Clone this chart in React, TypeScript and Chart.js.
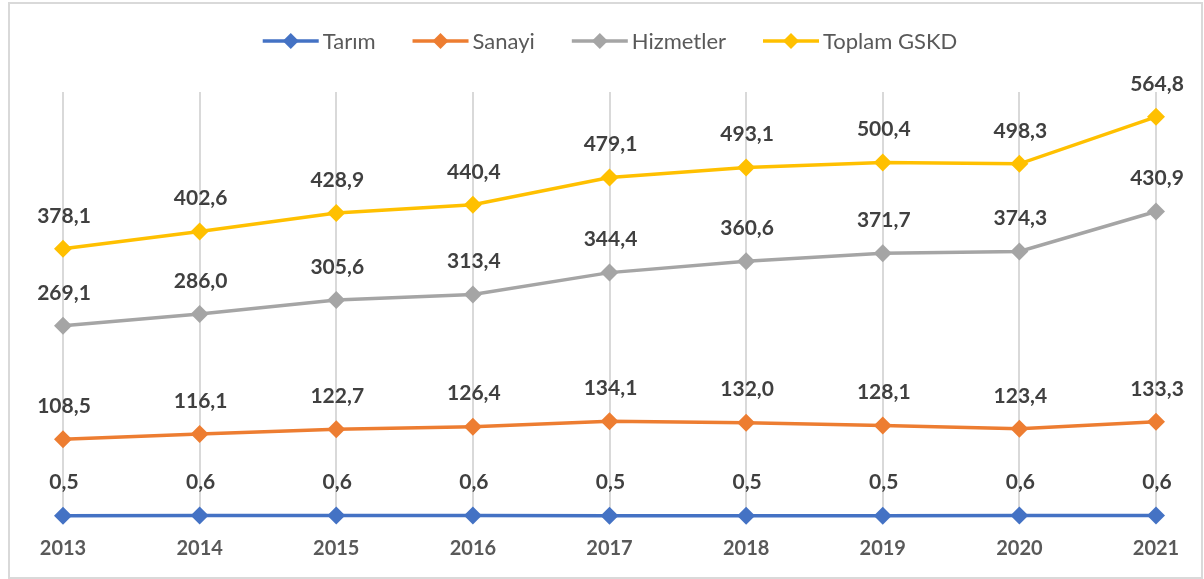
import React, { useEffect, useRef } from "react";
import { Chart, registerables } from "chart.js";

Chart.register(...registerables);

const years = ["2013", "2014", "2015", "2016", "2017", "2018", "2019", "2020", "2021"];
const tarim = [0.5, 0.6, 0.6, 0.6, 0.5, 0.5, 0.5, 0.6, 0.6];
const sanayi = [108.5, 116.1, 122.7, 126.4, 134.1, 132.0, 128.1, 123.4, 133.3];
const hizmetler = [269.1, 286.0, 305.6, 313.4, 344.4, 360.6, 371.7, 374.3, 430.9];
const toplam = [378.1, 402.6, 428.9, 440.4, 479.1, 493.1, 500.4, 498.3, 564.8];

const seriesNames = ["Tarım", "Sanayi", "Hizmetler", "Toplam GSKD"];
const seriesColors = ["#4472C4", "#ED7D31", "#A5A5A5", "#FFC000"];
const seriesValues = [tarim, sanayi, hizmetler, toplam];

const FONT = "Lato, 'Open Sans', sans-serif";

const fmt = (v: number) => v.toFixed(1).replace(".", ",");

const dataLabelPlugin = {
  id: "dataLabels",
  afterDatasetsDraw(chart: any) {
    const ctx = chart.ctx;
    ctx.save();
    ctx.font = `bold 21px ${FONT}`;
    ctx.fillStyle = "#404040";
    ctx.textAlign = "center";
    ctx.textBaseline = "middle";
    chart.data.datasets.forEach((ds: any, i: number) => {
      const meta = chart.getDatasetMeta(i);
      meta.data.forEach((el: any, j: number) => {
        ctx.fillText(fmt(ds.data[j]), el.x + 1, el.y - 33);
      });
    });
    ctx.restore();
  },
};

const legendPlugin = {
  id: "customLegend",
  afterDraw(chart: any) {
    const ctx = chart.ctx;
    ctx.save();
    ctx.font = `22px ${FONT}`;
    const lineW = 56;
    const gapText = 4;
    const gapItem = 37;
    const widths = seriesNames.map((n) => ctx.measureText(n).width);
    const total =
      widths.reduce((a, b) => a + b, 0) + seriesNames.length * (lineW + gapText) + gapItem * (seriesNames.length - 1);
    let x = 610 - total / 2;
    const y = 41;
    seriesNames.forEach((name, i) => {
      const c = seriesColors[i];
      ctx.strokeStyle = c;
      ctx.lineWidth = 3.5;
      ctx.beginPath();
      ctx.moveTo(x, y);
      ctx.lineTo(x + lineW, y);
      ctx.stroke();
      const cx = x + lineW / 2;
      const r = 8;
      ctx.fillStyle = c;
      ctx.beginPath();
      ctx.moveTo(cx - r, y);
      ctx.lineTo(cx, y - r);
      ctx.lineTo(cx + r, y);
      ctx.lineTo(cx, y + r);
      ctx.closePath();
      ctx.fill();
      ctx.fillStyle = "#595959";
      ctx.textAlign = "left";
      ctx.textBaseline = "middle";
      ctx.fillText(name, x + lineW + gapText, y + 1);
      x += lineW + gapText + widths[i] + gapItem;
    });
    ctx.restore();
  },
};

export default function App() {
  const ref = useRef<HTMLCanvasElement | null>(null);
  useEffect(() => {
    if (!ref.current) return;
    const chart = new Chart(ref.current, {
      type: "line",
      data: {
        labels: years,
        datasets: seriesNames.map((name, i) => ({
          label: name,
          data: seriesValues[i],
          borderColor: seriesColors[i],
          backgroundColor: seriesColors[i],
          borderWidth: 3.5,
          pointStyle: "rectRot",
          pointRadius: 9,
          pointBorderWidth: 0,
          pointBackgroundColor: seriesColors[i],
          tension: 0,
          clip: false,
        })),
      },
      options: {
        responsive: false,
        animation: false,
        layout: { padding: { left: 63, right: 48, top: 92, bottom: 0 } },
        plugins: {
          legend: { display: false },
          tooltip: { enabled: false },
        },
        scales: {
          x: {
            offset: false,
            grid: { display: true, color: "#D9D9D9", lineWidth: 2, drawTicks: false },
            border: { display: false },
            afterFit: (scale: any) => {
              scale.height = 63;
            },
            ticks: {
              padding: 21,
              color: "#595959",
              font: { family: FONT, size: 20, weight: "bold" },
              maxRotation: 0,
              autoSkip: false,
            },
          },
          y: {
            display: false,
            min: 0,
            max: 600,
          },
        },
      },
      plugins: [dataLabelPlugin, legendPlugin],
    });
    return () => chart.destroy();
  }, []);
  return (
    <div style={{ position: "fixed", left: 0, top: 0, width: 1204, height: 579, background: "#fff" }}>
      <canvas ref={ref} width={1204} height={579} style={{ position: "absolute", left: 0, top: 0 }} />
      <div
        style={{
          position: "absolute",
          left: 8,
          top: 2,
          width: 1195,
          height: 577,
          border: "2px solid #D9D9D9",
          boxSizing: "border-box",
          pointerEvents: "none",
        }}
      />
    </div>
  );
}
